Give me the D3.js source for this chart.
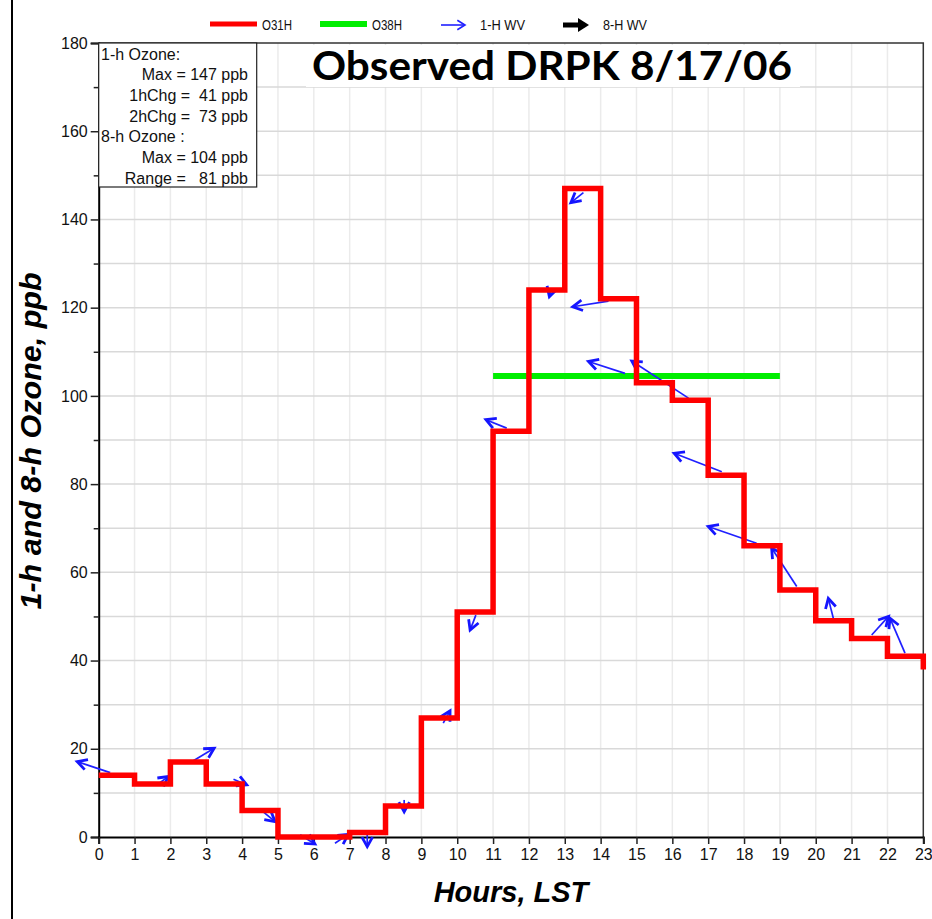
<!DOCTYPE html>
<html>
<head>
<meta charset="utf-8">
<script src="https://cdn.jsdelivr.net/npm/d3@7"></script>
<style>
  body { margin: 0; background: #fff; }
  svg { display: block; font-family: "Liberation Sans", Arial, sans-serif; }
</style>
</head>
<body>
<div id="container"></div>
<script>
// hourly values
const hours = d3.range(0, 24);
const ozone1h = [14, 12, 17, 12, 6, 0, 0, 1, 7, 27, 51, 92, 124, 147, 122, 103, 99, 82, 66, 56, 49, 45, 41, 38];
const ozone8hHours = [11, 19];
const ozone8hValue = 104.5;

// 1-h wind vectors: tail and head in (hour, ppb)
const windTailHour = [0.32, 1.62, 2.64, 3.76, 4.59, 5.62, 6.59, 7.49, 8.52, 9.61, 10.52, 11.38, 12.64, 13.52, 14.22, 14.68, 16.45, 17.38, 18.35, 19.47, 20.49, 21.56, 22.49];
const windTailPpb  = [14.6, 11.8, 17.3, 13.1, 5.7, 0.5, -1.4, 0.8, 8.4, 25.8, 50.3, 92.7, 124.4, 146.1, 121.5, 105.1, 99.5, 82.8, 66.6, 56.8, 49.6, 45.8, 41.7];
const windHeadHour = [-0.6, 1.94, 3.22, 4.13, 4.92, 6.03, 6.96, 7.49, 8.52, 9.8, 10.36, 10.8, 12.57, 13.17, 13.22, 13.66, 14.87, 16.05, 17.0, 18.77, 20.35, 22.03, 22.07];
const windHeadPpb  = [17.1, 13.7, 20.1, 11.8, 3.5, -1.6, 0.6, -2.2, 5.7, 28.6, 46.9, 94.6, 122.5, 143.8, 120.2, 107.8, 107.9, 87.0, 70.4, 65.5, 54.1, 50.0, 49.6];

const yMajorTicks = d3.range(0, 181, 20);
const yMinorTicks = d3.range(10, 180, 20);
const infoLeft = ["1-h Ozone:", null, null, null, "8-h Ozone :", null, null];
const infoRight = [null, "Max = 147 ppb", "1hChg =  41 ppb", "2hChg =  73 ppb", null, "Max = 104 ppb", "Range =   81 pbb"];
const titleText = "Observed DRPK 8/17/06";
const legendLabels = ["O31H", "O38H", "1-H WV", "8-H WV"];

const w = 932;
const h = 919;
const pLeft = 98.7, pRight = 923.3, pTop = 43, pBottom = 837;

const svg = d3.select('#container').append('svg')
    .attr('width', w)
    .attr('height', h);

const x = d3.scaleLinear().domain([0, 23]).range([pLeft, pRight]);
const y = d3.scaleLinear().domain([0, 180]).range([pBottom, pTop]);

// page edge line on the left
svg.append('line')
    .attr('x1', 12).attr('x2', 12).attr('y1', 0).attr('y2', h)
    .attr('stroke', '#000').attr('stroke-width', 2);

// grid
svg.append('g').selectAll('line').data(hours.slice(1, 23))
    .enter().append('line')
    .attr('x1', d => x(d)).attr('x2', d => x(d))
    .attr('y1', pTop).attr('y2', pBottom)
    .attr('stroke', '#ebebeb').attr('stroke-width', 1.5);
svg.append('g').selectAll('line').data(d3.range(10, 180, 10))
    .enter().append('line')
    .attr('x1', pLeft).attr('x2', pRight)
    .attr('y1', d => y(d)).attr('y2', d => y(d))
    .attr('stroke', '#d9d9d9').attr('stroke-width', 1.5);

// frame top/right
svg.append('path')
    .attr('d', `M${pLeft},${pTop}H${pRight}V${pBottom}`)
    .attr('fill', 'none').attr('stroke', '#333').attr('stroke-width', 1.5);

// axes
const yAxis = d3.axisLeft(y).tickValues(yMajorTicks).tickSize(8).tickPadding(3).tickFormat(d3.format('d'));
svg.append('g').attr('transform', `translate(${pLeft},0)`).call(yAxis);
const yMinor = d3.axisLeft(y).tickValues(yMinorTicks).tickSize(5).tickFormat('');
svg.append('g').attr('transform', `translate(${pLeft},0)`).call(yMinor).select('.domain').remove();
const xAxis = d3.axisBottom(x).tickValues(hours).tickSize(7).tickPadding(5).tickFormat(d3.format('d'));
svg.append('g').attr('transform', `translate(0,${pBottom})`).call(xAxis);

svg.selectAll('.tick text').attr('font-size', 16).attr('fill', '#111')
    .attr('font-family', '"Liberation Sans", Arial, sans-serif');
svg.selectAll('.tick line').attr('stroke', '#222').attr('stroke-width', 1.5);
svg.selectAll('.domain').attr('stroke', '#000').attr('stroke-width', 2);

// 8-h ozone
svg.append('line')
    .attr('x1', x(ozone8hHours[0])).attr('x2', x(ozone8hHours[1]))
    .attr('y1', y(ozone8hValue)).attr('y2', y(ozone8hValue))
    .attr('stroke', '#00ee00').attr('stroke-width', 6);

// wind arrows
const winds = windTailHour.map((t, i) => ({
    x1: x(t), y1: y(windTailPpb[i]), x2: x(windHeadHour[i]), y2: y(windHeadPpb[i])
}));
const arrowHead = (d, len, spread) => {
    const a = Math.atan2(d.y2 - d.y1, d.x2 - d.x1);
    const p1 = [d.x2 - len * Math.cos(a - spread), d.y2 - len * Math.sin(a - spread)];
    const p2 = [d.x2 - len * Math.cos(a + spread), d.y2 - len * Math.sin(a + spread)];
    return `M${p1[0]},${p1[1]}L${d.x2},${d.y2}L${p2[0]},${p2[1]}`;
};
const windG = svg.append('g');
windG.selectAll('.shaft').data(winds).enter().append('line')
    .attr('class', 'shaft')
    .attr('x1', d => d.x1).attr('y1', d => d.y1)
    .attr('x2', d => d.x2).attr('y2', d => d.y2)
    .attr('stroke', '#2020ff').attr('stroke-width', 1.7);
windG.selectAll('.head').data(winds).enter().append('path')
    .attr('class', 'head')
    .attr('d', d => arrowHead(d, 11, 0.5))
    .attr('fill', 'none')
    .attr('stroke', '#1515ff').attr('stroke-width', 2.8);

// 1-h ozone steps
const lineMaker = d3.line()
    .x((d, i) => x(hours[i]))
    .y(d => y(d))
    .curve(d3.curveStepAfter);
svg.append('path')
    .datum(ozone1h)
    .attr('d', lineMaker)
    .attr('fill', 'none')
    .attr('stroke', '#ff0000')
    .attr('stroke-width', 5.5)
    .attr('stroke-linejoin', 'miter');

// info box
svg.append('rect')
    .attr('x', pLeft).attr('y', pTop).attr('width', 158).attr('height', 144)
    .attr('fill', '#fff').attr('stroke', '#222').attr('stroke-width', 1.2);
const info = svg.append('g').attr('font-size', 16).attr('fill', '#111');
infoLeft.forEach((t, i) => {
    if (t) info.append('text').attr('x', 101).attr('y', 59.5 + i * 20.7).text(t);
});
infoRight.forEach((t, i) => {
    if (t) info.append('text').attr('x', 248).attr('y', 59.5 + i * 20.7)
        .attr('text-anchor', 'end').style('white-space', 'pre').text(t);
});

// title
svg.append('rect')
    .attr('x', 306).attr('y', 45).attr('width', 494).attr('height', 42)
    .attr('fill', '#fff');
svg.append('text')
    .attr('x', 312).attr('y', 80)
    .attr('font-family', 'Lato, "Open Sans", sans-serif')
    .attr('font-weight', 'bold').attr('font-size', 41)
    .attr('textLength', 480).attr('lengthAdjust', 'spacingAndGlyphs')
    .text(titleText);

// axis titles
svg.append('text')
    .attr('transform', `translate(41,${441}) rotate(-90)`)
    .attr('text-anchor', 'middle')
    .attr('font-weight', 'bold').attr('font-style', 'italic').attr('font-size', 30)
    .attr('textLength', 337).attr('lengthAdjust', 'spacingAndGlyphs')
    .text('1-h and 8-h Ozone, ppb');
svg.append('text')
    .attr('x', 511).attr('y', 902)
    .attr('text-anchor', 'middle')
    .attr('font-weight', 'bold').attr('font-style', 'italic').attr('font-size', 29)
    .text('Hours, LST');

// legend
const legend = svg.append('g').attr('font-size', 15).attr('fill', '#111');
legend.append('line').attr('x1', 210).attr('x2', 257).attr('y1', 24).attr('y2', 24)
    .attr('stroke', '#ff0000').attr('stroke-width', 5);
legend.append('line').attr('x1', 320).attr('x2', 367).attr('y1', 24).attr('y2', 24)
    .attr('stroke', '#00ee00').attr('stroke-width', 6);
const la = { x1: 441, y1: 25, x2: 465, y2: 25 };
legend.append('line').attr('x1', la.x1).attr('x2', la.x2).attr('y1', la.y1).attr('y2', la.y2)
    .attr('stroke', '#2020ff').attr('stroke-width', 1.6);
legend.append('path').attr('d', arrowHead(la, 9, 0.55)).attr('fill', 'none')
    .attr('stroke', '#2020ff').attr('stroke-width', 1.6);
legend.append('line').attr('x1', 563).attr('x2', 580).attr('y1', 25).attr('y2', 25)
    .attr('stroke', '#000').attr('stroke-width', 5);
legend.append('path').attr('d', 'M578,18L589,25L578,32Z').attr('fill', '#000');
const legendX = [262, 372, 480, 603];
const legendW = [30, 30, 45, 44];
legendLabels.forEach((t, i) => {
    legend.append('text').attr('x', legendX[i]).attr('y', 30)
        .attr('textLength', legendW[i]).attr('lengthAdjust', 'spacingAndGlyphs')
        .text(t);
});
</script>
</body>
</html>
